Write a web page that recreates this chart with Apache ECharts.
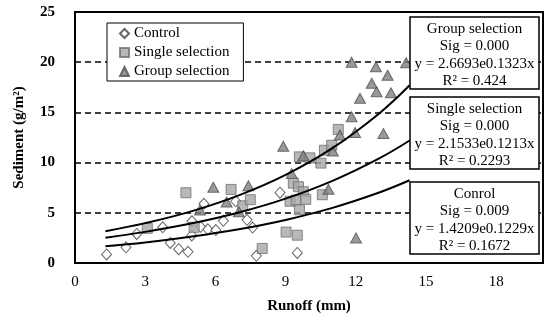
<!DOCTYPE html>
<html>
<head>
<meta charset="utf-8">
<script src="https://cdn.jsdelivr.net/npm/echarts@6/dist/echarts.min.js"></script>
<style>html,body{margin:0;padding:0;background:#fff;}#chart{width:550px;height:320px;}</style>
</head>
<body>
<div id="chart"></div>
<script>
// ---- data ----
const xTicks = [0, 3, 6, 9, 12, 15, 18];
const yTicks = [0, 5, 10, 15, 20, 25];
const seriesNames = ['Control', 'Single selection', 'Group selection'];

const controlPts = [
  [1.35, 0.85], [2.18, 1.56], [2.64, 2.9], [3.75, 3.55], [4.07, 2.0], [4.43, 1.38],
  [4.83, 1.12], [4.99, 2.75], [5.0, 4.15], [5.37, 3.6], [5.51, 5.9], [5.68, 3.35],
  [6.02, 3.28], [6.34, 4.2], [6.87, 6.15], [7.35, 4.3], [7.59, 3.53], [7.75, 0.72],
  [8.76, 7.0], [9.5, 1.0]
];
const singlePts = [
  [3.09, 3.45], [4.74, 7.0], [5.09, 3.55], [6.67, 7.33], [7.17, 5.7], [7.49, 6.3],
  [8.0, 1.45], [9.02, 3.08], [9.5, 2.77], [9.59, 10.57], [10.04, 10.47], [10.51, 9.95],
  [10.66, 11.23], [10.97, 11.73], [11.25, 13.3], [9.33, 7.95], [9.55, 7.6], [9.76, 7.1],
  [9.19, 6.15], [9.45, 6.27], [9.86, 6.34], [9.59, 5.3], [10.57, 6.8]
];
const groupPts = [
  [5.34, 5.28], [5.91, 7.54], [6.48, 6.07], [7.0, 5.11], [7.41, 7.7], [8.9, 11.63],
  [9.26, 8.9], [9.76, 10.68], [10.83, 7.35], [11.02, 11.15], [11.32, 12.75], [11.82, 14.56],
  [11.97, 13.0], [12.01, 2.5], [13.18, 12.9], [12.18, 16.4], [12.68, 17.9], [12.89, 17.05],
  [13.5, 16.96], [13.36, 18.7], [12.86, 19.55], [11.82, 20.0], [14.15, 19.95]
];

// fitted trend curves as drawn
const trendX = [1.3, 3, 5, 7, 9, 11, 13, 14.3];
const groupTrend = [3.17, 3.97, 5.17, 6.74, 8.78, 11.44, 14.9, 17.7];
const singleTrend = [2.52, 3.10, 3.95, 5.03, 6.41, 8.18, 10.42, 12.2];
const controlTrend = [1.67, 2.05, 2.63, 3.36, 4.29, 5.49, 7.02, 8.24];

// annotation boxes
const groupBoxText = ['Group selection', 'Sig = 0.000', 'y = 2.6693e0.1323x', 'R² = 0.424'];
const singleBoxText = ['Single selection', 'Sig = 0.000', 'y = 2.1533e0.1213x', 'R² = 0.2293'];
const controlBoxText = ['Conrol', 'Sig = 0.009', 'y = 1.4209e0.1229x', 'R² = 0.1672'];

// ---- chart ----
const FONT = '"Liberation Serif", "Times New Roman", serif';
const zip = (xs, ys) => xs.map((x, i) => [x, ys[i]]);

function box(top, lines) {
  return [
    { type: 'rect', x: 410, y: top, z: 100,
      shape: { x: 0, y: 0, width: 129, height: 72 },
      style: { fill: '#ffffff', stroke: '#000', lineWidth: 1.5 } },
    { type: 'text', x: 474.5, y: top + 3.5, z: 101,
      style: { text: lines.join('\n'), font: '15px ' + FONT, fill: '#000',
               align: 'center', verticalAlign: 'top', lineHeight: 17.3 } }
  ];
}

const chart = echarts.init(document.getElementById('chart'), null, { renderer: 'canvas' });
chart.setOption({
  animation: false,
  backgroundColor: '#fff',
  grid: { left: 75, right: 7, top: 12, bottom: 57, show: true, borderColor: '#000', borderWidth: 2, backgroundColor: 'transparent' },
  xAxis: {
    type: 'value', min: 0, max: 20, interval: 3,
    name: 'Runoff (mm)', nameLocation: 'middle', nameGap: 36,
    nameTextStyle: { fontFamily: FONT, fontSize: 15, fontWeight: 'bold', color: '#000' },
    axisLine: { show: true, lineStyle: { color: '#000', width: 2 } },
    axisTick: { show: false },
    axisLabel: { fontFamily: FONT, fontSize: 15, color: '#000', margin: 12,
      formatter: v => xTicks.includes(v) ? String(v) : '' },
    splitLine: { show: false }
  },
  yAxis: {
    type: 'value', min: 0, max: 25, interval: 5,
    name: 'Sediment (g/m²)', nameLocation: 'middle', nameGap: 48,
    nameTextStyle: { fontFamily: FONT, fontSize: 15, fontWeight: 'bold', color: '#000' },
    axisLine: { show: true, lineStyle: { color: '#000', width: 2 } },
    axisTick: { show: false },
    axisLabel: { fontFamily: FONT, fontSize: 15, fontWeight: 'bold', color: '#000', margin: 20,
      formatter: v => yTicks.includes(v) ? String(v) : '' },
    splitLine: { show: true, lineStyle: { color: '#000', width: 1.5, type: [6, 4] } }
  },
  legend: {
    orient: 'vertical', left: 107, top: 23,
    data: seriesNames,
    itemWidth: 9, itemHeight: 9, itemGap: 4,
    padding: [3, 14, 2, 12],
    backgroundColor: '#fff', borderColor: '#000', borderWidth: 1,
    textStyle: { fontFamily: FONT, fontSize: 15, color: '#000', lineHeight: 15 },
    z: 50
  },
  series: [
    { name: seriesNames[0], type: 'scatter', data: controlPts, symbol: 'diamond', symbolSize: [10, 11],
      itemStyle: { color: '#fff', borderColor: '#404040', borderWidth: 1 }, z: 3 },
    { name: seriesNames[1], type: 'scatter', data: singlePts, symbol: 'rect', symbolSize: 10,
      itemStyle: { color: '#a6a6a6', borderColor: '#6f6f6f', borderWidth: 1 }, z: 4 },
    { name: seriesNames[2], type: 'scatter', data: groupPts, symbol: 'triangle', symbolSize: [11, 10],
      itemStyle: { color: '#808080', borderColor: '#505050', borderWidth: 1 }, z: 5 },
    { type: 'line', data: zip(trendX, groupTrend), smooth: 0.4, symbol: 'none',
      lineStyle: { color: '#000', width: 2 }, z: 6, silent: true },
    { type: 'line', data: zip(trendX, singleTrend), smooth: 0.4, symbol: 'none',
      lineStyle: { color: '#000', width: 2 }, z: 6, silent: true },
    { type: 'line', data: zip(trendX, controlTrend), smooth: 0.4, symbol: 'none',
      lineStyle: { color: '#000', width: 2 }, z: 6, silent: true }
  ],
  graphic: [].concat(
    box(17, groupBoxText),
    box(97, singleBoxText),
    box(182, controlBoxText)
  )
});
</script>
</body>
</html>
